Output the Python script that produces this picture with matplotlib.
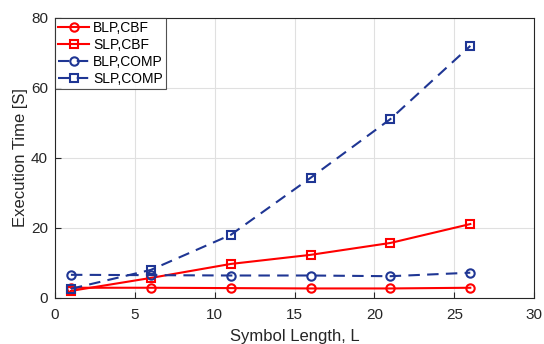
import matplotlib
matplotlib.use("Agg")
import matplotlib.pyplot as plt

plt.rcParams['font.family'] = ['Liberation Sans', 'DejaVu Sans']

x = [1, 6, 11, 16, 21, 26]
blp_cbf = [2.9, 2.9, 2.8, 2.7, 2.7, 2.9]
slp_cbf = [2.0, 5.7, 9.7, 12.3, 15.7, 21.1]
blp_comp = [6.6, 6.5, 6.4, 6.4, 6.2, 7.2]
slp_comp = [2.6, 8.0, 18.0, 34.3, 51.1, 72.0]
labels = ['BLP,CBF', 'SLP,CBF', 'BLP,COMP', 'SLP,COMP']

red = '#ff0000'
blue = '#1f3694'

fig = plt.figure(figsize=(5.44, 3.44), dpi=100)
ax = fig.add_axes([0.101, 0.134, 0.881, 0.814])

kw = dict(lw=1.5, ms=6, mew=1.5, mfc='none')
ax.plot(x, blp_cbf, '-', color=red, marker='o', label=labels[0], **kw)
ax.plot(x, slp_cbf, '-', color=red, marker='s', label=labels[1], **kw)
ax.plot(x, blp_comp, '--', color=blue, marker='o', label=labels[2], dashes=(5.5, 3.5), **kw)
ax.plot(x, slp_comp, '--', color=blue, marker='s', label=labels[3], dashes=(5.5, 3.5), **kw)

ax.set_xlim(0, 30)
ax.set_ylim(0, 80)
ax.set_xticks([0, 5, 10, 15, 20, 25, 30])
ax.set_yticks([0, 20, 40, 60, 80])
ax.grid(True, color='#e0e0e0', lw=0.8)
ax.set_axisbelow(True)
ax.tick_params(direction='in', labelsize=11, colors='#262626', length=4, width=0.8)
ax.tick_params(axis='x', pad=7)
ax.tick_params(axis='y', pad=5)
for s in ax.spines.values():
    s.set_color('#262626')
    s.set_linewidth(0.8)
ax.set_xlabel('Symbol Length, L', fontsize=12, color='#262626', labelpad=5)
ax.set_ylabel('Execution Time [S]', fontsize=12, color='#262626', labelpad=2)

leg = ax.legend(loc='upper left', fontsize=10, frameon=True, fancybox=False,
                edgecolor='#262626', borderaxespad=0, handlelength=2.2,
                borderpad=0.25, labelspacing=0.2, handletextpad=0.3)
leg.get_frame().set_linewidth(0.8)

fig.savefig('out.png', dpi=100)
